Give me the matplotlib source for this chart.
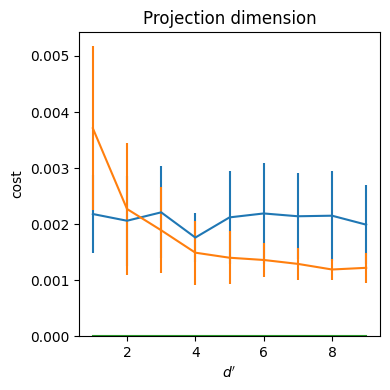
import numpy as np
from matplotlib import pyplot as plt

d = [1, 2, 3, 4, 5, 6, 7, 8, 9]

# mean cost and error per projection dimension
cost_a = [0.00218, 0.00206, 0.00221, 0.00176, 0.00212, 0.00219, 0.00214, 0.00215, 0.00199]
err_a = [0.00070, 0.00080, 0.00082, 0.00043, 0.00083, 0.00090, 0.00077, 0.00080, 0.00070]
cost_b = [0.00371, 0.00227, 0.00189, 0.00149, 0.00140, 0.00136, 0.00129, 0.00119, 0.00122]
err_b = [0.00146, 0.00118, 0.00077, 0.00057, 0.00047, 0.00030, 0.00029, 0.00019, 0.00027]
cost_c = [0, 0, 0, 0, 0, 0, 0, 0, 0]
err_c = [0, 0, 0, 0, 0, 0, 0, 0, 0]

fig, ax = plt.subplots(figsize=(3.9, 3.9), dpi=100)
ax.errorbar(d, cost_a, yerr=err_a)
ax.errorbar(d, cost_b, yerr=err_b)
ax.errorbar(d, cost_c, yerr=err_c)
ax.set_ylim(bottom=0)
ax.set_title("Projection dimension")
ax.set_xlabel("$d'$")
ax.set_ylabel("cost")
fig.subplots_adjust(left=0.203, right=0.974, top=0.918, bottom=0.138)
plt.savefig("out.png")
